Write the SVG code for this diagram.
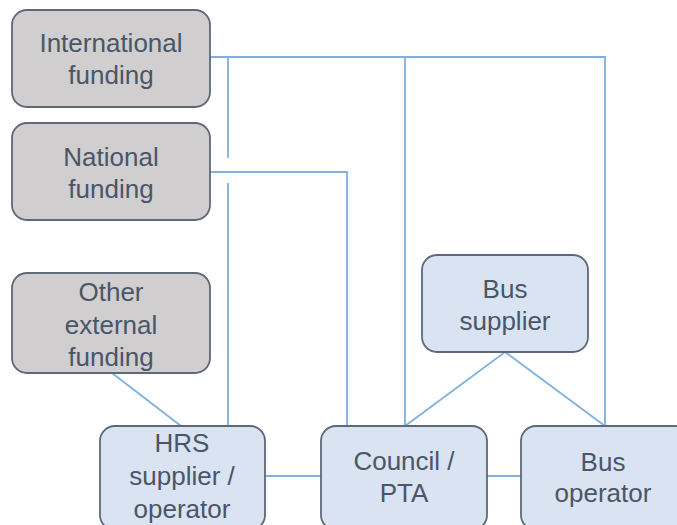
<svg xmlns="http://www.w3.org/2000/svg" width="677" height="525" viewBox="0 0 677 525">
<style>
.n rect{stroke:#5d6878;stroke-width:1.8}
.g rect{fill:#d0cece}
.b rect{fill:#d9e3f2}
text{font-family:"Liberation Sans",Arial,sans-serif;font-size:26px;fill:#4a5668;text-anchor:middle}
#connectors path{fill:none;stroke:#7eb0e0;stroke-width:1.8}
</style>
<rect width="677" height="525" fill="#ffffff"/>
<g id="connectors">
<path d="M210 57H605V426"/>
<path d="M228 57V158M228 183V426"/>
<path d="M405 57V426"/>
<path d="M210 172H347V426"/>
<path d="M112 373L181 426"/>
<path d="M265 476H321"/>
<path d="M487 476H521"/>
<path d="M405 426L505 352L605 426"/>
</g>
<g id="international" class="n g"><rect x="12" y="10" width="198" height="97" rx="15"/><text x="111" y="52">International</text><text x="111" y="84">funding</text></g>
<g id="national" class="n g"><rect x="12" y="123" width="198" height="97" rx="15"/><text x="111" y="166">National</text><text x="111" y="198">funding</text></g>
<g id="other" class="n g"><rect x="12" y="273" width="198" height="100" rx="15"/><text x="111" y="301">Other</text><text x="111" y="334">external</text><text x="111" y="366">funding</text></g>
<g id="hrs" class="n b"><rect x="100" y="426" width="165" height="104" rx="15"/><text x="182" y="452">HRS</text><text x="182" y="485">supplier /</text><text x="182" y="518">operator</text></g>
<g id="council" class="n b"><rect x="321" y="426" width="166" height="104" rx="15"/><text x="404" y="470">Council /</text><text x="404" y="502">PTA</text></g>
<g id="busop" class="n b"><rect x="521" y="426" width="170" height="104" rx="15"/><text x="603" y="471">Bus</text><text x="603" y="502">operator</text></g>
<g id="bussup" class="n b"><rect x="422" y="255" width="166" height="97" rx="15"/><text x="505" y="298">Bus</text><text x="505" y="330">supplier</text></g>
</svg>
